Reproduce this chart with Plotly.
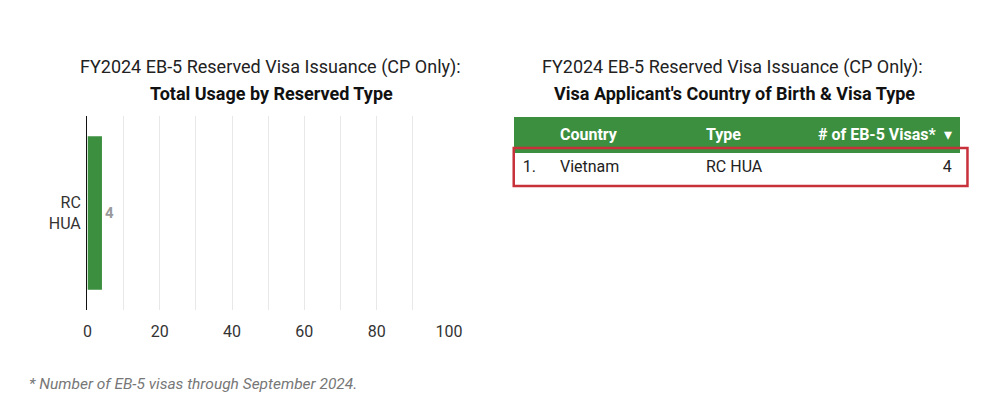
import plotly.graph_objects as go

W, H = 1006, 405

# ---- data ----
reserved_types = ["RC<br>HUA"]
reserved_counts = [4]

table_rank = ["1."]
table_country = ["Vietnam"]
table_type = ["RC HUA"]
table_visas = [4]
table_headers = ["", "Country", "Type", "# of EB-5 Visas*"]

x_tickvals = [0, 10, 20, 30, 40, 50, 60, 70, 80, 90, 100]
x_ticktext = ["0", "", "20", "", "40", "", "60", "", "80", "", "100"]

title_line1 = "FY2024 EB-5 Reserved Visa Issuance (CP Only):"
left_title_line2 = "Total Usage by Reserved Type"
right_title_line2 = "Visa Applicant's Country of Birth & Visa Type"
footnote = "* Number of EB-5 visas through September 2024."

GREEN = "#3b8f3e"
RED = "#c8303a"
FONT = "Roboto"


def px(x):
    return x / W


def py(y):
    return 1 - y / H


header_vals = []
for i, h in enumerate(table_headers):
    if not h:
        header_vals.append("")
    elif i == len(table_headers) - 1:
        header_vals.append("<b>%s</b>  ▾" % h)
    else:
        header_vals.append("<b>%s</b>" % h)

fig = go.Figure()

fig.add_trace(go.Bar(
    x=reserved_counts, y=reserved_types, orientation="h",
    marker=dict(color=GREEN, line=dict(width=0)),
    width=0.79,
    text=[str(v) for v in reserved_counts], textposition="outside",
    textfont=dict(family=FONT, size=15, color="#9a9a9a", weight="bold"),
    cliponaxis=False, hoverinfo="skip",
))

fig.add_trace(go.Table(
    domain=dict(x=[px(519), px(973)], y=[0, py(117)]),
    columnwidth=[38, 149, 100, 167],
    header=dict(
        values=header_vals,
        fill_color=GREEN, line=dict(width=1, color=GREEN),
        font=dict(family=FONT, size=16, color="white"),
        align=["left", "left", "left", "right"], height=30,
    ),
    cells=dict(
        values=[table_rank, table_country, table_type, table_visas],
        fill_color="white", line=dict(width=1, color="white"),
        font=dict(family=FONT, size=16, color="#222222"),
        align=["left", "left", "left", "right"], height=38,
    ),
))

fig.update_layout(
    width=W, height=H,
    margin=dict(l=0, r=0, t=0, b=0),
    paper_bgcolor="white", plot_bgcolor="white",
    showlegend=False,
    font=dict(family=FONT, color="#222222"),
    xaxis=dict(
        domain=[px(84), px(452)], range=[0, 100],
        tickvals=x_tickvals, ticktext=x_ticktext,
        showgrid=True, gridcolor="#e8e8e8", gridwidth=1,
        zeroline=False, showline=False, ticks="",
        tickfont=dict(family=FONT, size=16, color="#333333"),
        ticklabelstandoff=10,
        fixedrange=True,
    ),
    yaxis=dict(
        domain=[py(310), py(116)], range=[-0.5, 0.5],
        showgrid=False, zeroline=False,
        showline=True, linecolor="#111111", linewidth=1.5,
        ticks="", tickfont=dict(family=FONT, size=16, color="#333333"),
        ticklabelstandoff=2,
        fixedrange=True,
    ),
    annotations=[
        dict(text=title_line1, x=px(270), y=py(67), xref="paper", yref="paper",
             xanchor="center", yanchor="middle", showarrow=False,
             font=dict(family=FONT, size=18, color="#222222")),
        dict(text="<b>%s</b>" % left_title_line2, x=px(271), y=py(94), xref="paper", yref="paper",
             xanchor="center", yanchor="middle", showarrow=False,
             font=dict(family=FONT, size=18, color="#111111")),
        dict(text=title_line1, x=px(741), y=py(67), xref="paper", yref="paper",
             xanchor="center", yanchor="middle", showarrow=False,
             font=dict(family=FONT, size=18, color="#222222")),
        dict(text="<b>%s</b>" % right_title_line2, x=px(743), y=py(94), xref="paper", yref="paper",
             xanchor="center", yanchor="middle", showarrow=False,
             font=dict(family=FONT, size=18, color="#111111")),
        dict(text="<i>" + footnote + "</i>", x=px(22), y=py(384), xref="paper", yref="paper",
             xanchor="left", yanchor="middle", showarrow=False,
             font=dict(family=FONT, size=15.5, color="#777777")),
    ],
    shapes=[
        dict(type="rect", xref="paper", yref="paper",
             x0=px(518), x1=px(980), y0=py(186), y1=py(148),
             line=dict(color=RED, width=2.5), layer="above"),
    ],
)

fig.write_html(
    "out.html",
    config=dict(displayModeBar=False, staticPlot=True),
    post_script="document.body.style.margin='0';document.body.style.overflow='hidden';",
)
